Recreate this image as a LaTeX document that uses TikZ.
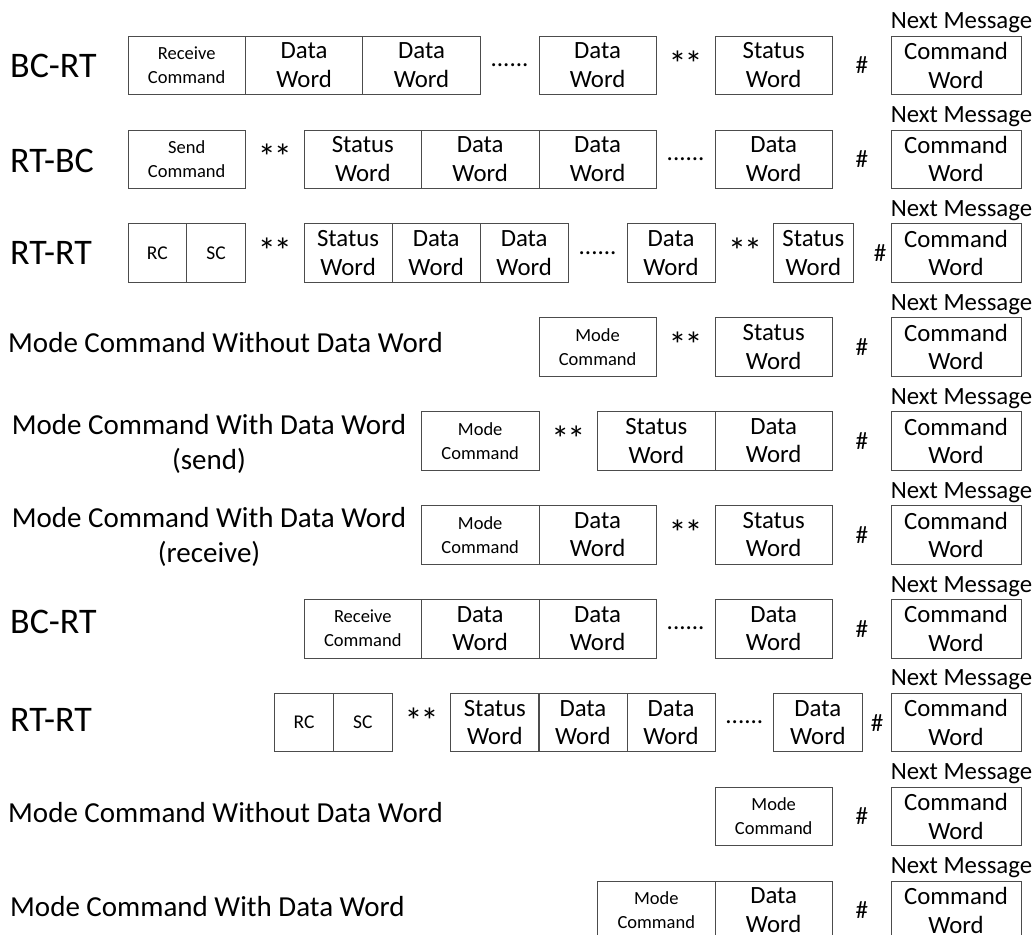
\documentclass[tikz,border=0pt]{standalone}
\usepackage{fontspec}
\setmainfont{Carlito}
\tikzset{
  box/.style={draw=black!70, line width=0.8pt, minimum height=58.5pt, inner sep=0pt, align=center},
  word/.style={box, minimum width=117.4pt, font=\fontsize{24.8}{28.5}\selectfont},
  cmd/.style={word, font=\fontsize{18.5}{24}\selectfont},
  half/.style={box, minimum width=58.7pt, font=\fontsize{19.5}{24}\selectfont},
  third/.style={word, minimum width=88.05pt},
  sym/.style={inner sep=0pt, font=\fontsize{25}{30}\selectfont},
  star/.style={inner sep=0pt, yshift=2pt, font=\fontsize{36}{40}\selectfont},
  msg/.style={anchor=west, inner sep=0pt, font=\fontsize{36}{42}\selectfont},
  mode/.style={inner sep=0pt, align=center, font=\fontsize{29}{35}\selectfont},
  nextmsg/.style={anchor=base west, inner sep=0pt, font=\fontsize{24.8}{28}\selectfont},
}
\newcommand{\stars}{*\kern-2pt*}
\begin{document}
\begin{tikzpicture}[x=1pt,y=-1pt]
\useasboundingbox (0,0) rectangle (1035,934);

\foreach \i in {0,...,9}{
  \node[word, minimum width=130pt] (cw\i) at (956,{65.25+93.9*\i}) {Command\\Word};
  \node[nextmsg] (nm\i) at ([yshift=7pt]cw\i.north west) {Next Message};
}

\node[msg] (l1) at (10,66) {BC-RT};
\node[cmd] (r1a) at (186.7,65.25) {Receive\\Command};
\node[word] (r1b) at (304.1,65.25) {Data\\Word};
\node[word] (r1c) at (421.5,65.25) {Data\\Word};
\node[sym] (r1d) at (509.55,65.25) {......};
\node[word] (r1e) at (597.6,65.25) {Data\\Word};
\node[star] (r1f) at (685.65,65.25) {\stars};
\node[word] (r1g) at (773.7,65.25) {Status\\Word};
\node[sym] (r1h) at (861.75,65.25) {\#};

\node[msg] (l2) at (10,161) {RT-BC};
\node[cmd] (r2a) at (186.7,159.15) {Send\\Command};
\node[star] (r2b) at (274.75,159.15) {\stars};
\node[word] (r2c) at (362.8,159.15) {Status\\Word};
\node[word] (r2d) at (480.2,159.15) {Data\\Word};
\node[word] (r2e) at (597.6,159.15) {Data\\Word};
\node[sym] (r2f) at (685.65,159.15) {......};
\node[word] (r2g) at (773.7,159.15) {Data\\Word};
\node[sym] (r2h) at (861.75,159.15) {\#};

\node[msg] (l3) at (10,253) {RT-RT};
\node[half] (r3a) at (157.35,253.05) {RC};
\node[half] (r3b) at (216.05,253.05) {SC};
\node[star] (r3c) at (274.75,253.05) {\stars};
\node[third] (r3d) at (348.1,253.05) {Status\\Word};
\node[third] (r3e) at (436.2,253.05) {Data\\Word};
\node[third] (r3f) at (524.2,253.05) {Data\\Word};
\node[sym] (r3g) at (597.6,253.05) {......};
\node[third] (r3h) at (671,253.05) {Data\\Word};
\node[star] (r3i) at (745,253.05) {\stars};
\node[word, minimum width=79.3pt] (r3j) at (813.4,253.05) {Status\\Word};
\node[sym] (r3k) at (880,253.05) {\#};

\node[mode, anchor=west] (l4) at (8,343) {Mode Command Without Data Word};
\node[cmd] (r4a) at (597.6,346.95) {Mode\\Command};
\node[star] (r4b) at (685.65,346.95) {\stars};
\node[word] (r4c) at (773.7,346.95) {Status\\Word};
\node[sym] (r4d) at (861.75,346.95) {\#};

\node[mode] (l5) at (209,444) {Mode Command With Data Word\\(send)};
\node[cmd] (r5a) at (480.2,440.85) {Mode\\Command};
\node[star] (r5b) at (568.25,440.85) {\stars};
\node[word] (r5c) at (656.3,440.85) {Status\\Word};
\node[word] (r5d) at (773.7,440.85) {Data\\Word};
\node[sym] (r5e) at (861.75,440.85) {\#};

\node[mode] (l6) at (209,537) {Mode Command With Data Word\\(receive)};
\node[cmd] (r6a) at (480.2,534.75) {Mode\\Command};
\node[word] (r6b) at (597.6,534.75) {Data\\Word};
\node[star] (r6c) at (685.65,534.75) {\stars};
\node[word] (r6d) at (773.7,534.75) {Status\\Word};
\node[sym] (r6e) at (861.75,534.75) {\#};

\node[msg] (l7) at (10,622) {BC-RT};
\node[cmd] (r7a) at (362.8,628.65) {Receive\\Command};
\node[word] (r7b) at (480.2,628.65) {Data\\Word};
\node[word] (r7c) at (597.6,628.65) {Data\\Word};
\node[sym] (r7d) at (685.65,628.65) {......};
\node[word] (r7e) at (773.7,628.65) {Data\\Word};
\node[sym] (r7f) at (861.75,628.65) {\#};

\node[msg] (l8) at (10,720) {RT-RT};
\node[half] (r8a) at (304.1,722.55) {RC};
\node[half] (r8b) at (362.8,722.55) {SC};
\node[star] (r8c) at (421.5,722.55) {\stars};
\node[third] (r8d) at (494.9,722.55) {Status\\Word};
\node[third] (r8e) at (582.9,722.55) {Data\\Word};
\node[third] (r8f) at (671,722.55) {Data\\Word};
\node[sym] (r8g) at (744.35,722.55) {......};
\node[word, minimum width=88.3pt] (r8h) at (817.85,722.55) {Data\\Word};
\node[sym] (r8i) at (877,722.55) {\#};

\node[mode, anchor=west] (l9) at (8,813) {Mode Command Without Data Word};
\node[cmd] (r9a) at (773.7,816.45) {Mode\\Command};
\node[sym] (r9b) at (861.75,816.45) {\#};

\node[mode, anchor=west] (l10) at (10,907) {Mode Command With Data Word};
\node[cmd] (r10a) at (656.3,910.35) {Mode\\Command};
\node[word] (r10b) at (773.7,910.35) {Data\\Word};
\node[sym] (r10c) at (861.75,910.35) {\#};
\end{tikzpicture}
\end{document}
